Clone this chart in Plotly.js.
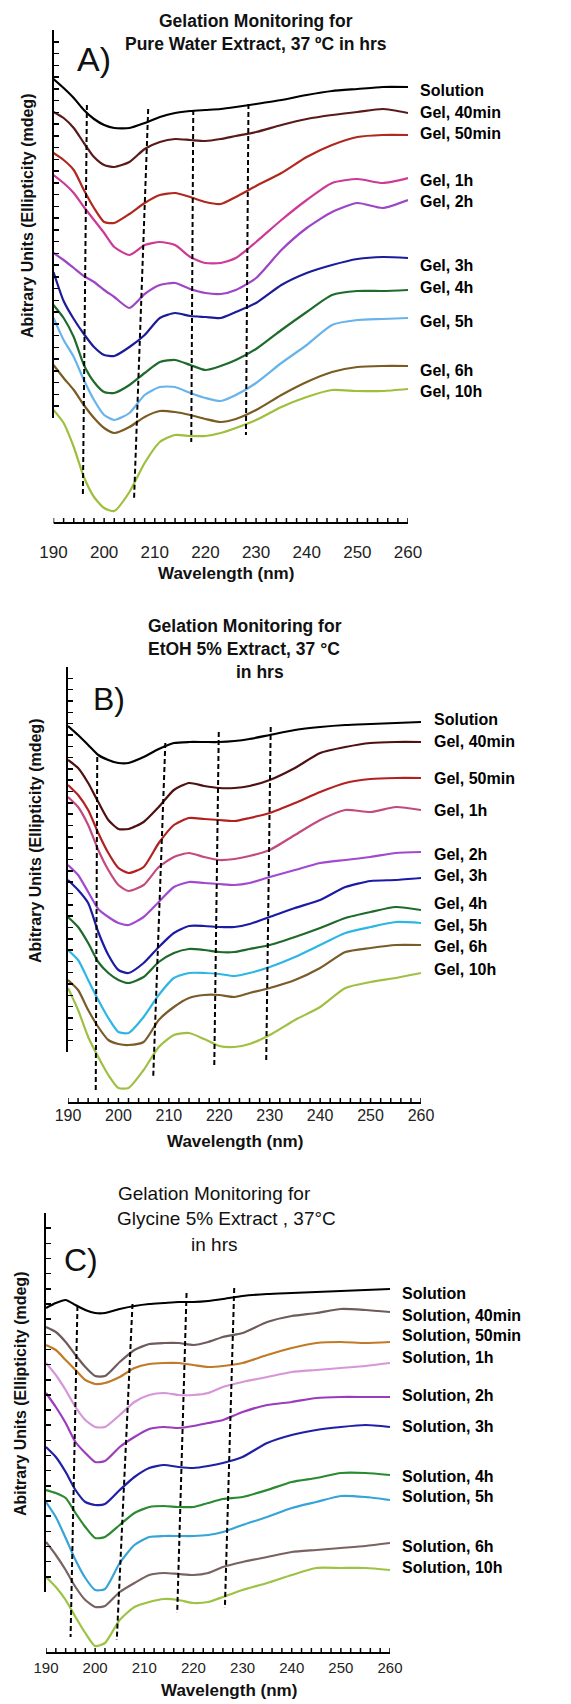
<!DOCTYPE html>
<html>
<head>
<meta charset="utf-8">
<script src="https://cdn.plot.ly/plotly-3.0.1.min.js"></script>
<style>html,body{margin:0;padding:0;background:#fff}
body{position:relative;width:571px;height:1704px;overflow:hidden}
.panel{position:absolute;left:0;width:571px}</style>
</head>
<body>
<div id="panelA" class="panel"></div>
<div id="panelB" class="panel"></div>
<div id="panelC" class="panel"></div>
<script>
// ---------- DATA (arbitrary CD units) ----------
const wavelength = [190,192,194,196,198,200,202,205,208,211,214,217,220,223,226,230,235,240,245,250,255,260];

// Panel A: Pure Water Extract
const labelsA = ["Solution","Gel, 40min","Gel, 50min","Gel, 1h","Gel, 2h","Gel, 3h","Gel, 4h","Gel, 5h","Gel, 6h","Gel, 10h"];
const aSolution = [444,435,425,413,404,398,395,395,400,406,410,412,413,414,416,419,423,428,432,434,436,436];
const aGel40min = [411,405,395,380,366,358,356,361,374,381,384,383,382,384,387,391,398,404,408,411,414,410];
const aGel50min = [370,363,353,333,315,301,300,309,320,328,330,326,321,319,326,337,350,366,378,386,388,388];
const aGel1h    = [348,340,330,316,303,290,276,268,278,281,278,266,260,260,265,281,303,323,340,344,340,345];
const aGel2h    = [270,263,255,247,241,233,226,215,229,238,240,234,230,229,233,245,273,295,311,320,315,323];
const aGel3h    = [251,222,204,189,176,168,167,176,188,205,210,207,206,205,211,220,238,250,258,264,266,265];
const aGel4h    = [218,205,186,158,141,131,130,138,150,161,163,158,153,157,163,174,193,211,228,232,232,233];
const aGel5h    = [205,183,166,143,123,108,103,110,128,136,136,130,125,122,128,140,160,178,198,203,204,205];
const aGel6h    = [158,145,133,118,105,95,90,96,106,112,111,108,104,101,104,113,128,141,151,156,157,157];
const aGel10h   = [113,100,76,46,26,15,12,31,60,81,88,87,87,90,95,103,116,126,133,132,132,134];
const aDashTopX = [196.6,208.7,217.6,228.5];
const aDashBotX = [195.8,205.9,217.2,228.0];
const aDashTopY = [418,414,413,419];
const aDashBotY = [26,23,81,88];

// Panel B: EtOH 5% Extract
const labelsB = ["Solution","Gel, 40min","Gel, 50min","Gel, 1h","Gel, 2h","Gel, 3h","Gel, 4h","Gel, 5h","Gel, 6h","Gel, 10h"];
const bSolution = [377,368,358,348,343,340,340,346,354,360,361,361,361,362,364,368,373,376,378,379,380,381];
const bGel40min = [343,335,320,301,283,274,274,281,296,313,320,317,315,315,317,323,335,350,356,360,361,361];
const bGel50min = [318,308,293,270,250,235,230,236,260,278,285,284,283,282,285,290,300,311,320,324,325,325];
const bGel1h    = [306,296,278,253,233,218,212,218,236,246,250,246,243,244,247,253,268,283,293,291,296,293];
const bGel2h    = [238,228,211,194,186,180,178,186,201,216,221,220,219,218,220,226,233,240,243,246,250,251];
const bGel3h    = [223,213,200,171,148,133,130,140,156,170,177,177,176,176,179,186,195,203,216,222,223,225];
const bGel4h    = [186,176,160,141,130,123,120,126,141,150,154,153,151,151,154,158,166,175,185,191,196,193];
const bGel5h    = [153,143,123,103,85,71,70,86,108,125,130,130,129,127,130,136,146,158,170,176,181,180];
const bGel6h    = [123,113,93,76,63,59,58,61,83,96,105,108,108,106,110,115,123,135,151,155,158,158];
const bGel10h   = [115,93,66,46,28,15,15,33,56,68,70,64,57,56,59,68,83,96,115,121,125,130];
const bDashTopX = [195.8,209.3,219.9,230.2];
const bDashBotX = [195.5,206.9,219.0,229.3];
const bDashTopY = [346,360,371,376];
const bDashBotY = [11,26,35,40];

// Panel C: Glycine 5% Extract
const labelsC = ["Solution","Solution, 40min","Solution, 50min","Solution, 1h","Solution, 2h","Solution, 3h","Solution, 4h","Solution, 5h","Solution, 6h","Solution, 10h"];
const cSolution = [345,350,353,348,343,340,340,344,347,349,350,351,351,352,354,357,359,360,361,362,363,364];
const cSol40min = [326,321,311,298,286,277,277,291,303,309,310,310,308,311,316,320,331,337,340,344,343,341];
const cSol50min = [308,303,293,283,273,269,270,276,285,289,290,290,288,286,287,290,298,305,310,311,310,311];
const cSol1h    = [290,278,263,246,233,226,226,238,251,258,260,258,258,260,266,271,276,281,283,285,287,290];
const cSol2h    = [260,246,230,211,200,191,192,206,216,224,226,225,227,230,233,241,248,251,255,256,256,256];
const cSol3h    = [206,196,181,163,151,148,149,163,176,185,188,186,185,187,190,196,210,218,223,226,228,226];
const cSol4h    = [163,160,155,140,126,115,116,128,140,146,147,146,146,150,154,156,163,171,175,180,180,178];
const cSol5h    = [151,136,115,93,75,63,64,90,108,116,117,117,117,118,121,128,136,145,151,157,156,153];
const cSol6h    = [111,98,83,66,53,46,47,61,70,78,80,79,78,80,86,91,96,101,103,105,107,110];
const cSol10h   = [76,66,53,36,20,7,10,33,46,51,54,53,50,51,56,63,70,78,85,85,85,83];
const cDashTopX = [196.4,207.6,218.6,228.3];
const cDashBotX = [195.0,204.4,216.7,226.4];
const cDashTopY = [347,349,360,365];
const cDashBotY = [16,13,40,45];

// ---------- STYLE / LAYOUT ----------
const W = 571;
const FONT = "Liberation Sans, Arial, Helvetica, sans-serif";
const X_MIN = 190, X_MAX = 260, X_MINOR = 2;

const panels = [
  { div:'panelA', top:0, h:590,
    xd:[53.5,408], yd:[523,30], yr:[0,493], tline:[418,30], nt:33,
    series:[aSolution,aGel40min,aGel50min,aGel1h,aGel2h,aGel3h,aGel4h,aGel5h,aGel6h,aGel10h],
    labels:labelsA,
    colors:['#000000','#5b1a1a','#b0281e','#cc3a96','#9d45c6','#1c1c9a','#1f6b2c','#68b3ea','#7a5b22','#9ebf3c'],
    dash:[aDashTopX,aDashBotX,aDashTopY,aDashBotY],
    labelX:418, labelY:[90,112.7,133.3,180,201,265.7,287.3,321.7,370,391.7],
    tickSize:17, standoff:17,
    titles:[{t:'<b>Gelation Monitoring for</b>',x:255.5,y:21,s:17.5},{t:'<b>Pure Water Extract, 37 ºC in hrs</b>',x:256,y:44,s:17.5}],
    letter:{t:'A)',x:75,y:58.5,s:34},
    ytitle:{x:27,y:216}, xtitle:{x:226,y:573}
  },
  { div:'panelB', top:590, h:570,
    xd:[68,421], yd:[1103,667], yr:[0,436], tline:[1052,667], nt:34,
    series:[bSolution,bGel40min,bGel50min,bGel1h,bGel2h,bGel3h,bGel4h,bGel5h,bGel6h,bGel10h],
    labels:labelsB,
    colors:['#000000','#4e1010','#b32020','#c24a7e','#a04ad0','#1b1ba6','#1e6a2a','#2db6e4','#7a5b2a','#9fc043'],
    dash:[bDashTopX,bDashBotX,bDashTopY,bDashBotY],
    labelX:432, labelY:[719,741.7,778.3,810.7,854,875.7,903.3,925.7,946,969],
    tickSize:16, standoff:1,
    titles:[{t:'<b>Gelation Monitoring for</b>',x:245,y:626,s:17.5},{t:'<b>EtOH 5% Extract, 37 °C</b>',x:244,y:649,s:17.5},{t:'<b>in hrs</b>',x:260,y:672,s:17.5}],
    letter:{t:'B)',x:91,y:699,s:32},
    ytitle:{x:35,y:841}, xtitle:{x:235,y:1141}
  },
  { div:'panelC', top:1160, h:544,
    xd:[46,390], yd:[1653,1213], yr:[0,440], tline:[1592,1213], nt:25,
    series:[cSolution,cSol40min,cSol50min,cSol1h,cSol2h,cSol3h,cSol4h,cSol5h,cSol6h,cSol10h],
    labels:labelsC,
    colors:['#000000','#6f5b5b','#c07a28','#d696d8','#9a3cbc','#2020a6','#2a8a30','#36a4d6','#7a6262','#9dc244'],
    dash:[cDashTopX,cDashBotX,cDashTopY,cDashBotY],
    labelX:400, labelY:[1293.3,1315.7,1335.7,1357.7,1395.7,1426.7,1476,1496,1546,1567.3],
    tickSize:15, standoff:4,
    titles:[{t:'Gelation Monitoring for',x:214,y:1193,s:19},{t:'Glycine 5% Extract , 37°C',x:226,y:1219,s:19},{t:'in hrs',x:214,y:1244,s:19}],
    letter:{t:'C)',x:62,y:1260,s:32},
    ytitle:{x:20,y:1394}, xtitle:{x:229,y:1690}
  }
];

panels.forEach(p => {
  const el = document.getElementById(p.div);
  el.style.top = p.top + 'px';
  el.style.height = p.h + 'px';
  const fx = v => v / W;
  const fy = v => 1 - (v - p.top) / p.h;

  const traces = [];
  const annotations = [];
  p.series.forEach((vals, i) => {
    traces.push({
      x: wavelength, y: vals, xaxis: 'x', yaxis: 'y',
      type: 'scatter', mode: 'lines', name: p.labels[i],
      line: {color: p.colors[i], width: 2.2, shape: 'spline', smoothing: 0.6},
      hoverinfo: 'skip'
    });
  });
  const [tx, bx, ty, by] = p.dash;
  tx.forEach((_, i) => {
    traces.push({
      x: [tx[i], bx[i]], y: [ty[i], by[i]], xaxis: 'x', yaxis: 'y',
      type: 'scatter', mode: 'lines',
      line: {color: '#000', width: 2, dash: '5px,3px'},
      hoverinfo: 'skip'
    });
  });
  // empty trace so the short tick-only y axis gets its own subplot
  traces.push({x: [], y: [], xaxis: 'x', yaxis: 'y2', type: 'scatter', mode: 'lines', hoverinfo: 'skip'});

  p.labels.forEach((lab, i) => {
    annotations.push({
      xref: 'paper', yref: 'paper', x: fx(p.labelX), y: fy(p.labelY[i]),
      xanchor: 'left', yanchor: 'middle', showarrow: false,
      text: '<b>' + lab + '</b>', font: {family: FONT, size: 16, color: '#000'}
    });
  });
  p.titles.forEach(t => {
    annotations.push({
      xref: 'paper', yref: 'paper', x: fx(t.x), y: fy(t.y),
      xanchor: 'center', yanchor: 'middle', showarrow: false,
      text: t.t, font: {family: FONT, size: t.s, color: '#111'}
    });
  });
  annotations.push({
    xref: 'paper', yref: 'paper', x: fx(p.letter.x), y: fy(p.letter.y),
    xanchor: 'left', yanchor: 'middle', showarrow: false,
    text: p.letter.t, font: {family: FONT, size: p.letter.s, color: '#111'}
  });
  annotations.push({
    xref: 'paper', yref: 'paper', x: fx(p.ytitle.x), y: fy(p.ytitle.y),
    xanchor: 'center', yanchor: 'middle', showarrow: false, textangle: -90,
    text: '<b>Abitrary Units (Ellipticity (mdeg)</b>', font: {family: FONT, size: 16, color: '#111'}
  });
  annotations.push({
    xref: 'paper', yref: 'paper', x: fx(p.xtitle.x), y: fy(p.xtitle.y),
    xanchor: 'center', yanchor: 'middle', showarrow: false,
    text: '<b>Wavelength (nm)</b>', font: {family: FONT, size: 17, color: '#111'}
  });

  // wavelength axis line and its inward ticks, placed on the x scale
  const axisY = fy(p.yd[0]);
  const tickTop = fy(p.yd[0] - 5);
  const shapes = [{
    type: 'line', layer: 'above', xref: 'x', yref: 'paper',
    x0: X_MIN, x1: X_MAX, y0: axisY, y1: axisY,
    line: {color: '#000', width: 2}
  }];
  for (let t = X_MIN; t <= X_MAX; t += X_MINOR) {
    shapes.push({
      type: 'line', layer: 'above', xref: 'x', yref: 'paper',
      x0: t, x1: t, y0: axisY, y1: tickTop,
      line: {color: '#000', width: 1.5}
    });
  }

  const layout = {
    width: W, height: p.h,
    margin: {l:0, r:0, t:0, b:0},
    paper_bgcolor: '#ffffff', plot_bgcolor: 'rgba(0,0,0,0)',
    showlegend: false,
    font: {family: FONT, color: '#000'},
    annotations: annotations,
    shapes: shapes,
    xaxis: {
      domain: [fx(p.xd[0]), fx(p.xd[1])], range: [X_MIN, X_MAX], anchor: 'y',
      showgrid: false, zeroline: false, showline: false, ticks: '', dtick: 10, tick0: X_MIN,
      tickfont: {family: FONT, size: p.tickSize, color: '#222'},
      ticklabelstandoff: p.standoff
    },
    yaxis: {
      domain: [fy(p.yd[0]), fy(p.yd[1])], range: p.yr, anchor: 'x',
      showgrid: false, zeroline: false, showline: false, ticks: '', showticklabels: false
    },
    yaxis2: {
      domain: [fy(p.tline[0]), fy(p.tline[1])], range: [0, p.nt], anchor: 'x',
      showgrid: false, zeroline: false, showline: true, linecolor: '#000', linewidth: 2,
      ticks: 'inside', ticklen: 5, tickwidth: 1.5, tickcolor: '#000', dtick: 1, tick0: 0,
      showticklabels: false
    }
  };
  Plotly.newPlot(p.div, traces, layout, {staticPlot: true, displayModeBar: false});
});
</script>
</body>
</html>
